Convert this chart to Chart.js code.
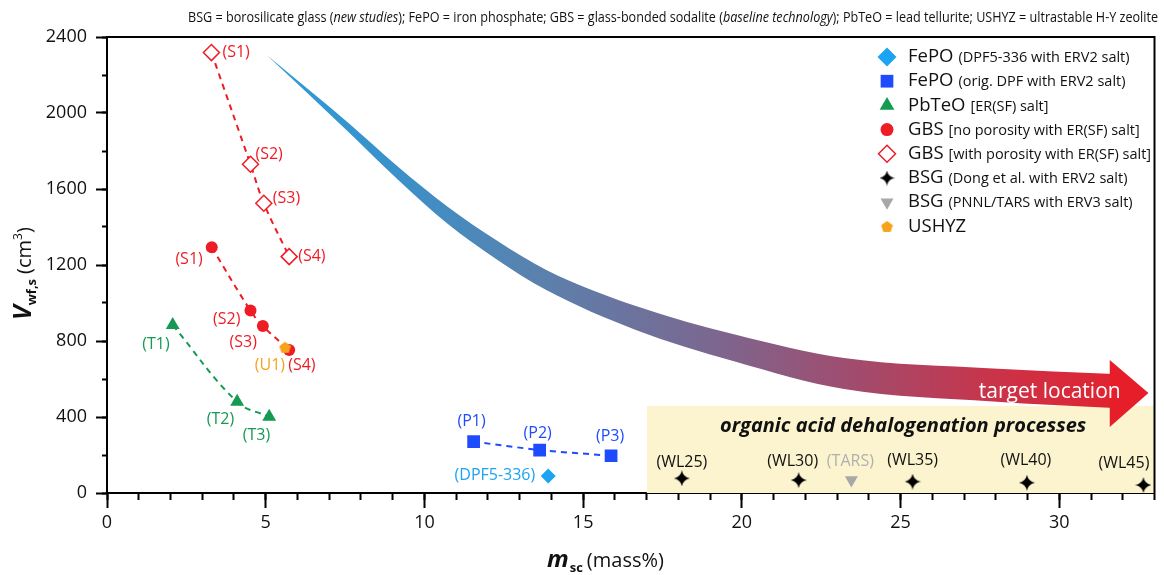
<!DOCTYPE html>
<html><head><meta charset="utf-8">
<script src="https://cdn.jsdelivr.net/npm/chart.js@4/dist/chart.umd.min.js"></script>
<style>html,body{margin:0;padding:0;background:#fff;}canvas{display:block;}</style>
</head><body>
<canvas id="c" width="1164" height="575"></canvas>
<script>
// ---------------- data ----------------
const xTickLabels = [0, 5, 10, 15, 20, 25, 30];
const yTickLabels = [0, 400, 800, 1200, 1600, 2000, 2400];

const fepoDpfX = [13.9];
const fepoDpfY = [90];
const fepoDpfLabels = ['(DPF5-336)'];

const fepoOrigX = [11.55, 13.63, 15.88];
const fepoOrigY = [270, 226, 196];
const fepoOrigLabels = ['(P1)', '(P2)', '(P3)'];

const pbteoX = [2.07, 4.10, 5.11];
const pbteoY = [884, 480, 401];
const pbteoLabels = ['(T1)', '(T2)', '(T3)'];

const gbsX = [3.30, 4.52, 4.91, 5.74];
const gbsY = [1293, 960, 879, 753];
const gbsLabels = ['(S1)', '(S2)', '(S3)', '(S4)'];

const gbsPorX = [3.29, 4.52, 4.94, 5.74];
const gbsPorY = [2318, 1730, 1525, 1244];
const gbsPorLabels = ['(S1)', '(S2)', '(S3)', '(S4)'];

const bsgDongX = [18.11, 21.79, 25.38, 28.98, 32.65];
const bsgDongY = [77, 68, 60, 54, 42];
const bsgDongLabels = ['(WL25)', '(WL30)', '(WL35)', '(WL40)', '(WL45)'];

const bsgTarsX = [23.45];
const bsgTarsY = [68];
const bsgTarsLabels = ['(TARS)'];

const ushyzX = [5.61];
const ushyzY = [767];
const ushyzLabels = ['(U1)'];

// trend arrow (edges of the curved band, data units)
const arrowX      = [5.03, 7.59, 9.16, 10.72, 12.28, 13.84, 16.66, 19.78, 23.22, 27.91, 31.72];
const arrowUpperY = [2305, 1950, 1718, 1508, 1329, 1174, 984, 834, 710, 655, 626];
const arrowLowerY = [2305, 1903, 1650, 1418, 1229, 1068, 858, 692, 547, 482, 447];
const arrowHeadX  = [31.59, 32.81, 31.59];
const arrowHeadY  = [700, 526, 347];

// organic acid dehalogenation region
const regionX = [17, 33];
const regionTopY = [458, 458];

const legendNames = ['FePO', 'FePO', 'PbTeO', 'GBS', 'GBS', 'BSG', 'BSG', 'USHYZ'];
const legendNotes = ['(DPF5-336 with ERV2 salt)', '(orig. DPF with ERV2 salt)', '[ER(SF) salt]',
  '[no porosity with ER(SF) salt]', '[with porosity with ER(SF) salt]',
  '(Dong et al. with ERV2 salt)', '(PNNL/TARS with ERV3 salt)', ''];

const captionParts = [
  ['BSG = borosilicate glass (', false], ['new studies', true],
  ['); FePO = iron phosphate; GBS = glass-bonded sodalite (', false], ['baseline technology', true],
  ['); PbTeO = lead tellurite; USHYZ = ultrastable H-Y zeolite', false]
];
const regionText = 'organic acid dehalogenation processes';
const arrowText = 'target location';

// ---------------- helpers ----------------
const pts = (xs, ys) => xs.map((x, i) => ({x, y: ys[i]}));
const FONT = '"Open Sans", "Noto Sans", sans-serif';

function makeStar(size, color) {
  const c = document.createElement('canvas'); c.width = c.height = size;
  const g = c.getContext('2d'); const r = size / 2; const k = r * 0.16;
  g.fillStyle = color; g.beginPath();
  g.moveTo(r, 0);
  g.quadraticCurveTo(r + k, r - k, size, r);
  g.quadraticCurveTo(r + k, r + k, r, size);
  g.quadraticCurveTo(r - k, r + k, 0, r);
  g.quadraticCurveTo(r - k, r - k, r, 0);
  g.closePath(); g.fill();
  return c;
}
function makePentagon(size, color) {
  const c = document.createElement('canvas'); c.width = c.height = size;
  const g = c.getContext('2d'); const r = size / 2;
  g.fillStyle = color; g.beginPath();
  for (let i = 0; i < 5; i++) {
    const a = -Math.PI / 2 + i * 2 * Math.PI / 5;
    const px = r + Math.cos(a) * r * 0.95, py = r + 0.6 + Math.sin(a) * r * 0.95;
    i ? g.lineTo(px, py) : g.moveTo(px, py);
  }
  g.closePath(); g.fill();
  return c;
}
const starImg = makeStar(16, '#000');
const starLegend = makeStar(15, '#000');
const pentImg = makePentagon(13, '#f7a21b');
const pentLegend = makePentagon(13, '#f7a21b');

const C = {
  light: '#1ba3f4', blue: '#1f4bff', green: '#159a52', red: '#ee1c25',
  grey: '#a8a8a8', orange: '#f7a21b', yellow: '#fbf4cf'
};

function bandGradient(context) {
  const chart = context.chart;
  const {ctx, chartArea, scales} = chart;
  if (!chartArea) return 'rgba(0,0,0,0)';
  const x0 = scales.x.getPixelForValue(arrowX[0]);
  const x1 = scales.x.getPixelForValue(arrowHeadX[1]);
  const g = ctx.createLinearGradient(x0, 0, x1, 0);
  g.addColorStop(0, '#2c9cda');
  g.addColorStop(0.15, '#3b90c9');
  g.addColorStop(0.3, '#5982ae');
  g.addColorStop(0.5, '#7a6891');
  g.addColorStop(0.67, '#a24b6d');
  g.addColorStop(0.85, '#cf3044');
  g.addColorStop(1, '#e61e2a');
  return g;
}

// label style: [dx, dy, align] per point
const labelStyle = {
  dpf: [[-13, 0, 'right']],
  orig: [[-2, -20, 'center'], [-2, -17, 'center'], [-1, -19, 'center']],
  pbteo: [[-3, 19, 'right'], [-3, 18, 'right'], [1, 19, 'right']],
  gbs: [[-9, 12, 'right'], [-10, 9, 'right'], [-6, 16, 'right'], [-1, 16, 'left']],
  gbsPor: [[11, 0, 'left'], [5, -10, 'left'], [9, -5, 'left'], [9, 0, 'left']],
  dong: [[0, -16, 'center'], [-6, -19, 'center'], [0, -21, 'center'], [-1, -22, 'center'], [6, -22, 'right']],
  tars: [[-1, -19, 'center']],
  ushyz: [[0, 18, 'right']]
};

const datasets = [
  { label: 'region', data: pts(regionX, regionTopY), fill: 'origin', backgroundColor: C.yellow,
    borderColor: 'rgba(0,0,0,0)', borderWidth: 0, pointRadius: 0, order: 100 },
  { label: 'arrowLower', data: pts(arrowX, arrowLowerY), fill: false, borderColor: 'rgba(0,0,0,0)',
    borderWidth: 0, pointRadius: 0, cubicInterpolationMode: 'monotone', order: 60 },
  { label: 'arrowUpper', data: pts(arrowX, arrowUpperY), fill: '-1', backgroundColor: bandGradient,
    borderColor: 'rgba(0,0,0,0)', borderWidth: 0, pointRadius: 0, cubicInterpolationMode: 'monotone', order: 59 },
  { label: 'arrowHead', data: pts(arrowHeadX, arrowHeadY), fill: 'shape', backgroundColor: '#e61e2a',
    borderColor: 'rgba(0,0,0,0)', borderWidth: 0, pointRadius: 0, tension: 0, order: 58 },

  { label: 'GBS porosity', data: pts(gbsPorX, gbsPorY), showLine: true, borderColor: C.red, borderWidth: 2,
    borderDash: [6, 5], tension: 0.4, pointStyle: 'rectRot', pointRadius: 8, pointBackgroundColor: '#fff',
    pointBorderColor: C.red, pointBorderWidth: 1.5, order: 10,
    pointLabels: gbsPorLabels, labelColor: C.red, labelKey: 'gbsPor' },
  { label: 'GBS', data: pts(gbsX, gbsY), showLine: true, borderColor: C.red, borderWidth: 2,
    borderDash: [6, 5], tension: 0.4, pointStyle: 'circle', pointRadius: 6, pointBackgroundColor: C.red,
    pointBorderColor: C.red, pointBorderWidth: 0, order: 9,
    pointLabels: gbsLabels, labelColor: C.red, labelKey: 'gbs' },
  { label: 'USHYZ', data: pts(ushyzX, ushyzY), showLine: false, pointStyle: pentImg, pointRadius: 7, order: 1,
    pointLabels: ushyzLabels, labelColor: C.orange, labelKey: 'ushyz' },
  { label: 'PbTeO', data: pts(pbteoX, pbteoY), showLine: true, borderColor: C.green, borderWidth: 2,
    borderDash: [6, 5], tension: 0.4, pointStyle: 'triangle', pointRadius: 8, pointBackgroundColor: C.green,
    pointBorderColor: C.green, pointBorderWidth: 0, order: 8,
    pointLabels: pbteoLabels, labelColor: C.green, labelKey: 'pbteo' },
  { label: 'FePO orig', data: pts(fepoOrigX, fepoOrigY), showLine: true, borderColor: C.blue, borderWidth: 2,
    borderDash: [6, 5], tension: 0.2, pointStyle: 'rect', pointRadius: 9, pointBackgroundColor: C.blue,
    pointBorderColor: C.blue, pointBorderWidth: 0, order: 7,
    pointLabels: fepoOrigLabels, labelColor: C.blue, labelKey: 'orig' },
  { label: 'FePO DPF', data: pts(fepoDpfX, fepoDpfY), showLine: false, pointStyle: 'rectRot', pointRadius: 7.5,
    pointBackgroundColor: C.light, pointBorderColor: C.light, pointBorderWidth: 0, order: 6,
    pointLabels: fepoDpfLabels, labelColor: C.light, labelKey: 'dpf' },
  { label: 'BSG Dong', data: pts(bsgDongX, bsgDongY), showLine: false, pointStyle: starImg, pointRadius: 8, order: 5,
    pointLabels: bsgDongLabels, labelColor: '#111', labelKey: 'dong' },
  { label: 'BSG TARS', data: pts(bsgTarsX, bsgTarsY), showLine: false, pointStyle: 'triangle', pointRotation: 180,
    pointRadius: 7.5, pointBackgroundColor: C.grey, pointBorderColor: C.grey, pointBorderWidth: 0, order: 5,
    pointLabels: bsgTarsLabels, labelColor: '#b0b0b0', labelKey: 'tars' }
];

// ---------------- plugins ----------------
const framePlugin = {
  id: 'frame',
  afterDraw(chart) {
    const {ctx, chartArea: a} = chart;
    ctx.save(); ctx.strokeStyle = '#000'; ctx.lineWidth = 2;
    ctx.beginPath(); ctx.moveTo(a.left, a.top); ctx.lineTo(a.right, a.top); ctx.lineTo(a.right, a.bottom); ctx.stroke();
    ctx.restore();
  }
};

const labelsPlugin = {
  id: 'pointLabels',
  afterDatasetsDraw(chart) {
    const {ctx, scales} = chart;
    ctx.save();
    ctx.font = '16px ' + FONT; ctx.textBaseline = 'middle';
    chart.data.datasets.forEach((ds, i) => {
      if (!ds.pointLabels) return;
      const meta = chart.getDatasetMeta(i);
      const st = labelStyle[ds.labelKey];
      meta.data.forEach((el, j) => {
        const o = st[j];
        ctx.fillStyle = ds.labelColor; ctx.textAlign = o[2];
        ctx.fillText(ds.pointLabels[j], el.x + o[0], el.y + o[1]);
      });
    });
    // region text
    ctx.fillStyle = '#111'; ctx.textAlign = 'center';
    ctx.font = 'italic bold 20px ' + FONT;
    ctx.fillText(regionText, scales.x.getPixelForValue(25.08), scales.y.getPixelForValue(353));
    // arrow text
    ctx.fillStyle = '#fff'; ctx.font = '21px ' + FONT;
    ctx.fillText(arrowText, scales.x.getPixelForValue(29.7), scales.y.getPixelForValue(530));
    ctx.restore();
  }
};

const legendPlugin = {
  id: 'customLegend',
  afterDraw(chart) {
    const ctx = chart.ctx;
    const marks = [
      {pointStyle: 'rectRot', radius: 9.5, fill: C.light},
      {pointStyle: 'rect', radius: 9, fill: C.blue},
      {pointStyle: 'triangle', radius: 8.5, fill: C.green},
      {pointStyle: 'circle', radius: 6.5, fill: C.red},
      {pointStyle: 'rectRot', radius: 8.5, fill: '#fff', stroke: C.red, borderWidth: 1.5},
      {pointStyle: starLegend, radius: 8, fill: '#000'},
      {pointStyle: 'triangle', radius: 7.5, rotation: 180, fill: C.grey},
      {pointStyle: pentLegend, radius: 7, fill: C.orange}
    ];
    ctx.save();
    legendNames.forEach((name, i) => {
      const y = 57 + i * 24.2;
      const m = marks[i];
      ctx.fillStyle = m.fill; ctx.strokeStyle = m.stroke || m.fill;
      ctx.lineWidth = m.borderWidth || 0;
      Chart.helpers.drawPoint(ctx, {pointStyle: m.pointStyle, radius: m.radius, rotation: m.rotation || 0,
        borderWidth: m.borderWidth || 0}, 887, y);
      ctx.fillStyle = '#111'; ctx.textAlign = 'left'; ctx.textBaseline = 'middle';
      ctx.font = '18.5px ' + FONT;
      ctx.fillText(name, 908, y);
      const w = ctx.measureText(name).width;
      ctx.font = '14.5px ' + FONT;
      ctx.fillText(legendNotes[i], 908 + w + 5, y + 1);
    });
    ctx.restore();
  }
};

const textPlugin = {
  id: 'texts',
  afterDraw(chart) {
    const ctx = chart.ctx;
    ctx.save();
    // caption (condensed)
    ctx.textBaseline = 'middle'; ctx.fillStyle = '#111'; ctx.textAlign = 'left';
    let total = 0;
    captionParts.forEach(([t, it]) => { ctx.font = (it ? 'italic ' : '') + '14px ' + FONT; total += ctx.measureText(t).width; });
    const target = 970, right = 1158;
    ctx.translate(right - target, 18); ctx.scale(target / total, 1);
    let x = 0;
    captionParts.forEach(([t, it]) => { ctx.font = (it ? 'italic ' : '') + '14px ' + FONT; ctx.fillText(t, x, 0); x += ctx.measureText(t).width; });
    ctx.restore();

    // x axis title
    ctx.save(); ctx.fillStyle = '#111'; ctx.textBaseline = 'alphabetic'; ctx.textAlign = 'left';
    let xx = 547;
    ctx.font = 'italic bold 24px ' + FONT; ctx.fillText('m', xx, 567); xx += ctx.measureText('m').width + 1;
    ctx.font = 'bold 13px ' + FONT; ctx.fillText('sc', xx, 572); xx += ctx.measureText('sc').width + 4;
    ctx.font = '20px ' + FONT; ctx.fillText('(mass%)', xx, 567);
    ctx.restore();

    // y axis title
    ctx.save(); ctx.fillStyle = '#111'; ctx.textBaseline = 'alphabetic'; ctx.textAlign = 'left';
    ctx.translate(31, 320); ctx.rotate(-Math.PI / 2);
    let yy = 0;
    ctx.font = 'italic bold 25px ' + FONT; ctx.fillText('V', yy, 0); yy += ctx.measureText('V').width;
    ctx.font = 'bold 13px ' + FONT; ctx.fillText('wf,s', yy, 5); yy += ctx.measureText('wf,s').width + 5;
    ctx.font = '20px ' + FONT; ctx.fillText('(cm', yy, 0); yy += ctx.measureText('(cm').width;
    ctx.font = '12px ' + FONT; ctx.fillText('3', yy, -9); yy += ctx.measureText('3').width;
    ctx.font = '20px ' + FONT; ctx.fillText(')', yy, 0);
    ctx.restore();
  }
};

// ---------------- chart ----------------
new Chart(document.getElementById('c'), {
  type: 'line',
  data: { datasets },
  plugins: [framePlugin, labelsPlugin, legendPlugin, textPlugin],
  options: {
    responsive: false, animation: false,
    layout: { padding: { left: 0, top: 37, right: 3, bottom: 0 } },
    plugins: { legend: { display: false }, tooltip: { enabled: false }, filler: { propagate: false } },
    scales: {
      x: {
        type: 'linear', position: 'bottom', min: 0, max: 33, weight: 1,
        ticks: { stepSize: 5, includeBounds: false, color: '#111', font: { family: FONT, size: 18 }, padding: 4,
          maxRotation: 0, autoSkip: false,
          callback: v => xTickLabels.includes(v) ? String(v) : '' },
        grid: { drawOnChartArea: false, drawTicks: true, tickLength: 15, tickWidth: 2, tickColor: '#000' },
        border: { display: true, color: '#000', width: 2 },
        afterFit(s) { s.height = 82; }
      },
      xMinor: {
        type: 'linear', axis: 'x', position: 'bottom', min: 0, max: 33, weight: 0,
        ticks: { stepSize: 1, display: false },
        grid: { drawOnChartArea: false, drawTicks: true, tickLength: 7, tickWidth: 2, tickColor: '#000' },
        border: { display: false },
        afterFit(s) { s.height = 0; }
      },
      y: {
        type: 'linear', position: 'left', min: 0, max: 2400, weight: 1,
        ticks: { stepSize: 400, includeBounds: false, color: '#111', font: { family: FONT, size: 18 }, padding: 9,
          autoSkip: false, callback: v => yTickLabels.includes(v) ? String(v) : '' },
        grid: { drawOnChartArea: false, drawTicks: true, tickLength: 11, tickWidth: 2, tickColor: '#000' },
        border: { display: true, color: '#000', width: 2 },
        afterFit(s) { s.width = 107; }
      },
      yMinor: {
        type: 'linear', axis: 'y', position: 'left', min: 0, max: 2400, weight: 0,
        ticks: { stepSize: 200, display: false },
        grid: { drawOnChartArea: false, drawTicks: true, tickLength: 5, tickWidth: 2, tickColor: '#000' },
        border: { display: false },
        afterFit(s) { s.width = 0; }
      }
    }
  }
});
</script>
</body></html>
